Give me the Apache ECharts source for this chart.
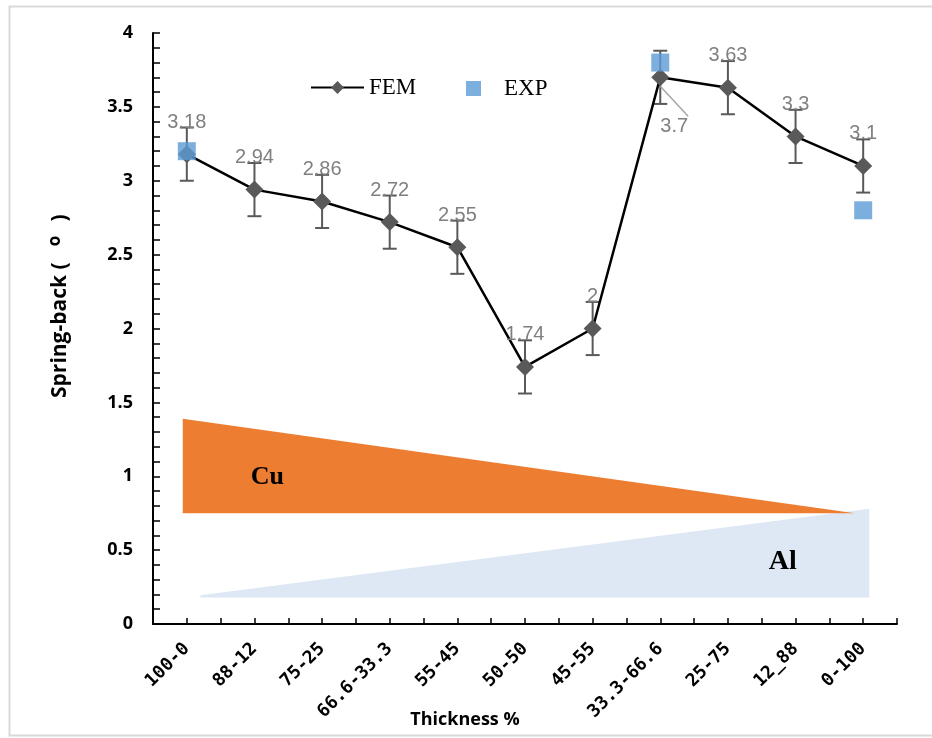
<!DOCTYPE html>
<html>
<head>
<meta charset="utf-8">
<script src="https://cdn.jsdelivr.net/npm/echarts@6/dist/echarts.min.js"></script>
<style>
html,body{margin:0;padding:0;background:#fff;}
#chart{width:932px;height:738px;}
</style>
</head>
<body>
<div id="chart"></div>
<script>
// Thickness ratio (Cu-Al) categories
const categories = ['100-0','88-12','75-25','66.6-33.3','55-45','50-50','45-55','33.3-66.6','25-75','12_88','0-100'];
// Finite-element spring-back (degrees)
const femValues = [3.18, 2.94, 2.86, 2.72, 2.55, 1.74, 2, 3.7, 3.63, 3.3, 3.1];
// Experimental spring-back (degrees), measured for three laminates only
const expValues = [3.2, null, null, null, null, null, null, 3.8, null, null, 2.8];
// Error half-width on each FEM value
const femError = [0.18, 0.18, 0.18, 0.18, 0.18, 0.18, 0.18, 0.18, 0.18, 0.18, 0.18];
// Y axis range
const yTicks = {min: 0, max: 4, step: 0.5};

// Layer-share wedges in (slot, spring-back) units: Cu tapers off, Al grows
const cuWedge = [[0.44, 1.39], [10.38, 0.75], [0.44, 0.75]];
const alWedge = [[0.70, 0.195], [10.59, 0.78], [10.59, 0.18], [0.70, 0.18]];
const cuTag = [1.69, 0.995];
const alTag = [9.31, 0.42];

const errorData = femValues.map((v, i) => [i, v - femError[i], v + femError[i]]);

const femData = femValues.map((v, i) => {
  if (categories[i] === '33.3-66.6') {
    return {
      value: v,
      label: {position: 'bottom', distance: 30, offset: [14, 0]},
      labelLine: {show: true, lineStyle: {color: '#a6a6a6', width: 1.5}}
    };
  }
  return v;
});

const chart = echarts.init(document.getElementById('chart'), null, {renderer: 'canvas'});

// Vertical axis title, written bottom-to-top in three pieces (main, raised "o", closing bracket)
const vTitle = (text, x, y, size, align) => ({
  type: 'text', x: x, y: y, rotation: Math.PI / 2, silent: true,
  style: {text: text, fill: '#000', fontFamily: 'Open Sans', fontWeight: 'bold', fontSize: size, align: align, verticalAlign: 'middle'}
});

const option = {
  animation: false,
  backgroundColor: '#ffffff',
  graphic: [{
    type: 'rect',
    shape: {x: 9.5, y: 6.5, width: 940, height: 729},
    style: {fill: 'none', stroke: '#d9d9d9', lineWidth: 2},
    silent: true, z: -10
  },
    vTitle('Spring-back (', 60, 398, 21, 'left'),
    vTitle('o', 55, 241, 17, 'center'),
    vTitle(')', 60, 218, 21, 'center'),
  {
    type: 'text',
    x: 465, y: 720,
    style: {
      text: 'Thickness %',
      fill: '#000',
      fontFamily: 'Open Sans', fontWeight: 'bold', fontSize: 18,
      align: 'center', verticalAlign: 'middle'
    },
    silent: true
  }],
  grid: {left: 153, right: 35, top: 33, bottom: 114, outerBoundsMode: 'none', containLabel: false},
  legend: [{
    data: ['FEM'],
    left: 310, top: 76, padding: 0,
    itemWidth: 53, itemHeight: 16, itemGap: 0,
    textStyle: {fontFamily: 'Liberation Serif', fontSize: 23, color: '#000'}
  }, {
    data: [{name: 'EXP', icon: 'rect'}],
    left: 466, top: 77, padding: 0,
    itemWidth: 15, itemHeight: 15,
    textStyle: {fontFamily: 'Liberation Serif', fontSize: 23, color: '#000', padding: [0, 0, 0, 18]}
  }],
  xAxis: [{
    type: 'category',
    data: categories,
    boundaryGap: true,
    axisLine: {lineStyle: {color: '#000', width: 2}},
    axisTick: {show: false},
    axisLabel: {
      rotate: 45, margin: 22, interval: 0,
      fontFamily: 'DejaVu Sans Mono', fontWeight: 'bold', fontSize: 18, color: '#000'
    }
  }, {
    type: 'value',
    min: 0, max: 11, interval: 0.5,
    position: 'bottom',
    axisLine: {show: true, lineStyle: {color: '#000', width: 2, opacity: 0}},
    axisTick: {show: true, inside: true, length: 6, lineStyle: {color: '#000', width: 1.5}},
    axisLabel: {show: false},
    splitLine: {show: false}
  }],
  yAxis: {
    type: 'value',
    min: yTicks.min, max: yTicks.max, interval: yTicks.step,
    axisLine: {show: true, lineStyle: {color: '#000', width: 2}},
    axisTick: {show: true, inside: true, length: 7, lineStyle: {color: '#000', width: 1.5}},
    minorTick: {show: true, splitNumber: 5, length: 7, lineStyle: {color: '#000', width: 1.5}},
    splitLine: {show: false},
    axisLabel: {
      margin: 20, fontFamily: 'Open Sans', fontWeight: 'bold', fontSize: 18, color: '#000'
    }
  },
  series: [{
    name: 'wedges',
    type: 'custom',
    xAxisIndex: 1,
    z: 1,
    silent: true,
    data: [0],
    renderItem: function (params, api) {
      const cu = cuWedge.map(p => api.coord(p));
      const al = alWedge.map(p => api.coord(p));
      const cuT = api.coord(cuTag);
      const alT = api.coord(alTag);
      return {
        type: 'group',
        children: [
          {type: 'polygon', shape: {points: al}, style: {fill: '#dee8f4'}},
          {type: 'polygon', shape: {points: cu}, style: {fill: '#ed7d31'}},
          {type: 'text', x: cuT[0], y: cuT[1], style: {text: 'Cu', fill: '#000', fontFamily: 'Liberation Serif', fontWeight: 'bold', fontSize: 26, align: 'center', verticalAlign: 'middle'}},
          {type: 'text', x: alT[0], y: alT[1], style: {text: 'Al', fill: '#000', fontFamily: 'Liberation Serif', fontWeight: 'bold', fontSize: 28, align: 'center', verticalAlign: 'middle'}}
        ]
      };
    }
  }, {
    name: 'error',
    type: 'custom',
    xAxisIndex: 0,
    z: 3,
    silent: true,
    data: errorData,
    renderItem: function (params, api) {
      const lo = api.coord([api.value(0), api.value(1)]);
      const hi = api.coord([api.value(0), api.value(2)]);
      const half = 7;
      const st = {stroke: '#595959', lineWidth: 2};
      return {
        type: 'group',
        children: [
          {type: 'line', shape: {x1: hi[0], y1: hi[1], x2: lo[0], y2: lo[1]}, style: st},
          {type: 'line', shape: {x1: hi[0] - half, y1: hi[1], x2: hi[0] + half, y2: hi[1]}, style: st},
          {type: 'line', shape: {x1: lo[0] - half, y1: lo[1], x2: lo[0] + half, y2: lo[1]}, style: st}
        ]
      };
    }
  }, {
    name: 'FEM',
    type: 'line',
    xAxisIndex: 0,
    z: 4,
    data: femData,
    symbol: 'diamond',
    symbolSize: 18,
    lineStyle: {color: '#000', width: 2.5},
    itemStyle: {color: '#595959'},
    label: {
      show: true, position: 'top', distance: 13,
      fontFamily: 'Liberation Sans', fontSize: 20, color: '#808080'
    }
  }, {
    name: 'EXP',
    type: 'scatter',
    xAxisIndex: 0,
    z: 5,
    data: expValues,
    symbol: 'rect',
    symbolSize: 18,
    itemStyle: {color: '#5b9bd5'}
  }]
};

chart.setOption(option);
</script>
</body>
</html>
